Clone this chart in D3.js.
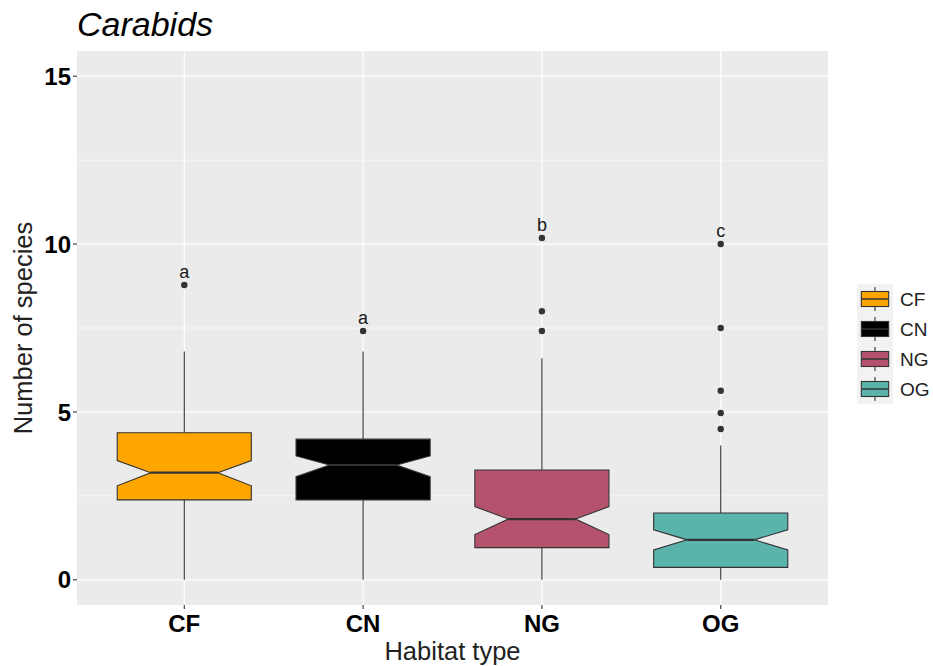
<!doctype html>
<meta charset="utf-8">
<title>Carabids</title>
<script src="https://cdn.jsdelivr.net/npm/d3@7"></script>
<style>
body, html { margin: 0; background: #fff; }
svg { font-family: "Liberation Sans", Arial, sans-serif; }
</style>
<body>
<svg id="chart" width="933" height="666"></svg>
<script>
// habitat categories and box statistics
var categories = ["CF", "CN", "NG", "OG"];
var colors = ["#FFA500", "#000000", "#B5536F", "#5AB4AC"];
var whiskerLow = [0, 0, 0, 0];
var q1 = [2.38, 2.38, 0.96, 0.37];
var notchLow = [2.80, 3.07, 1.35, 0.89];
var median = [3.19, 3.42, 1.81, 1.19];
var notchHigh = [3.55, 3.69, 2.18, 1.49];
var q3 = [4.38, 4.19, 3.27, 1.99];
var whiskerHigh = [6.8, 6.8, 6.6, 4.0];
var outliers = [[8.78], [7.41], [10.18, 8.0, 7.41], [10.0, 7.5, 5.63, 4.97, 4.49]];
var letters = ["a", "a", "b", "c"];
var yTicks = [0, 5, 10, 15];
var yMinor = [2.5, 7.5, 12.5];

var svg = d3.select("#chart");
var pLeft = 77, pRight = 828, pTop = 51, pBottom = 605;

// ggplot discrete expansion: 0.6 units each side
var step = (pRight - pLeft) / 4.2;
var x = d3.scalePoint().domain(categories)
  .range([pLeft + step * 0.6, pRight - step * 0.6]);
var y = d3.scaleLinear().domain([-0.75, 15.75]).range([pBottom, pTop]);

// panel
svg.append("rect").attr("x", pLeft).attr("y", pTop)
  .attr("width", pRight - pLeft).attr("height", pBottom - pTop).attr("fill", "#EBEBEB");

svg.selectAll(".minor").data(yMinor).enter().append("line")
  .attr("x1", pLeft).attr("x2", pRight)
  .attr("y1", d => y(d)).attr("y2", d => y(d))
  .attr("stroke", "#fff").attr("stroke-width", 0.6);
svg.selectAll(".major").data(yTicks).enter().append("line")
  .attr("x1", pLeft).attr("x2", pRight)
  .attr("y1", d => y(d)).attr("y2", d => y(d))
  .attr("stroke", "#fff").attr("stroke-width", 1.2);
svg.selectAll(".vmajor").data(categories).enter().append("line")
  .attr("y1", pTop).attr("y2", pBottom)
  .attr("x1", d => x(d)).attr("x2", d => x(d))
  .attr("stroke", "#fff").attr("stroke-width", 1.2);

// boxes
var hw = step * 0.75 / 2;
var g = svg.selectAll(".box").data(categories).enter().append("g");

g.append("line")
  .attr("x1", d => x(d)).attr("x2", d => x(d))
  .attr("y1", (d, i) => y(q3[i])).attr("y2", (d, i) => y(whiskerHigh[i]))
  .attr("stroke", "#333").attr("stroke-width", 1.1);
g.append("line")
  .attr("x1", d => x(d)).attr("x2", d => x(d))
  .attr("y1", (d, i) => y(q1[i])).attr("y2", (d, i) => y(whiskerLow[i]))
  .attr("stroke", "#333").attr("stroke-width", 1.1);

g.append("path")
  .attr("d", function(d, i) {
    var cx = x(d), nw = hw / 2;
    var pts = [
      [cx - hw, y(q3[i])], [cx + hw, y(q3[i])], [cx + hw, y(notchHigh[i])],
      [cx + nw, y(median[i])], [cx + hw, y(notchLow[i])], [cx + hw, y(q1[i])],
      [cx - hw, y(q1[i])], [cx - hw, y(notchLow[i])], [cx - nw, y(median[i])],
      [cx - hw, y(notchHigh[i])]
    ];
    return "M" + pts.map(p => p.join(",")).join("L") + "Z";
  })
  .attr("fill", (d, i) => colors[i])
  .attr("stroke", "#333").attr("stroke-width", 1.1);

g.append("line")
  .attr("x1", d => x(d) - hw / 2).attr("x2", d => x(d) + hw / 2)
  .attr("y1", (d, i) => y(median[i])).attr("y2", (d, i) => y(median[i]))
  .attr("stroke", "#333").attr("stroke-width", 2.2);

g.each(function(d, i) {
  d3.select(this).selectAll("circle").data(outliers[i]).enter().append("circle")
    .attr("cx", x(d)).attr("cy", v => y(v)).attr("r", 3.2).attr("fill", "#333");
});

// significance letters above the top point
g.append("text")
  .attr("x", d => x(d))
  .attr("y", (d, i) => y(d3.max(outliers[i])) - 7)
  .attr("text-anchor", "middle").attr("font-size", 18).attr("fill", "#1a1a1a")
  .text((d, i) => letters[i]);

// axes
svg.selectAll(".yt").data(yTicks).enter().append("line")
  .attr("x1", pLeft - 4).attr("x2", pLeft)
  .attr("y1", d => y(d)).attr("y2", d => y(d))
  .attr("stroke", "#333").attr("stroke-width", 1.1);
svg.selectAll(".yl").data(yTicks).enter().append("text")
  .attr("x", pLeft - 6).attr("y", d => y(d)).attr("dy", "0.36em")
  .attr("text-anchor", "end").attr("font-size", 24).attr("font-weight", "bold")
  .attr("fill", "#000").text(d => d);

svg.selectAll(".xt").data(categories).enter().append("line")
  .attr("x1", d => x(d)).attr("x2", d => x(d))
  .attr("y1", pBottom).attr("y2", pBottom + 4)
  .attr("stroke", "#333").attr("stroke-width", 1.1);
svg.selectAll(".xl").data(categories).enter().append("text")
  .attr("x", d => x(d)).attr("y", pBottom + 27)
  .attr("text-anchor", "middle").attr("font-size", 24).attr("font-weight", "bold")
  .attr("fill", "#000").text(d => d);

svg.append("text").attr("x", (pLeft + pRight) / 2).attr("y", 660)
  .attr("text-anchor", "middle").attr("font-size", 25.5).attr("fill", "#222")
  .text("Habitat type");
svg.append("text")
  .attr("transform", "translate(32," + ((pTop + pBottom) / 2) + ") rotate(-90)")
  .attr("text-anchor", "middle").attr("font-size", 25.5).attr("fill", "#222")
  .text("Number of species");

svg.append("text").attr("x", 77).attr("y", 36)
  .attr("font-size", 34).attr("font-style", "italic").attr("fill", "#000")
  .text("Carabids");

// legend
var lx = 857, ly = 284, kw = 36, kh = 30;
var lg = svg.selectAll(".leg").data(categories).enter().append("g")
  .attr("transform", (d, i) => "translate(" + lx + "," + (ly + i * kh) + ")");
lg.append("rect").attr("width", kw).attr("height", kh).attr("fill", "#F2F2F2");
lg.append("line").attr("x1", kw / 2).attr("x2", kw / 2)
  .attr("y1", kh * 0.1).attr("y2", kh * 0.9)
  .attr("stroke", "#333").attr("stroke-width", 1.1);
lg.append("rect").attr("x", kw * 0.12).attr("y", kh * 0.25)
  .attr("width", kw * 0.76).attr("height", kh * 0.5)
  .attr("fill", (d, i) => colors[i]).attr("stroke", "#333").attr("stroke-width", 1.1);
lg.append("line").attr("x1", kw * 0.12).attr("x2", kw * 0.88)
  .attr("y1", kh / 2).attr("y2", kh / 2)
  .attr("stroke", "#333").attr("stroke-width", 1.5);
lg.append("text").attr("x", kw + 7).attr("y", kh / 2).attr("dy", "0.36em")
  .attr("font-size", 19).attr("fill", "#222").text(d => d);
</script>
</body>
